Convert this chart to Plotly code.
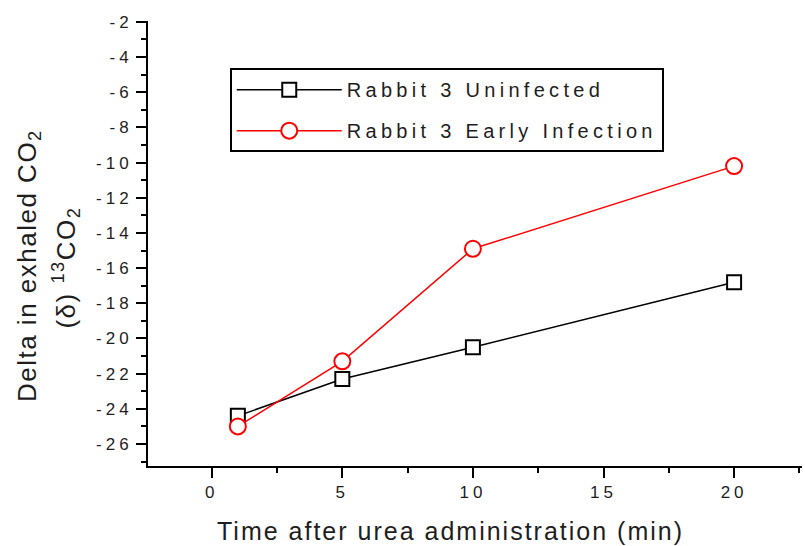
import plotly.graph_objects as go

# ---- data ----
time_min = [1, 5, 10, 20]
uninfected = [-24.4, -22.3, -20.5, -16.8]
early_infection = [-25.0, -21.3, -14.9, -10.2]
series_names = ["Rabbit 3 Uninfected", "Rabbit 3 Early Infection"]
x_tick_vals = [0, 5, 10, 15, 20]
y_tick_vals = [-26, -24, -22, -20, -18, -16, -14, -12, -10, -8, -6, -4, -2]

FONT = "Liberation Sans, Arial, sans-serif"
TXT = "#1e1e1e"


def spaced(s, px):
    return f'<span style="letter-spacing:{px}px">{s}</span>'


fig = go.Figure()
fig.add_trace(go.Scatter(
    x=time_min, y=uninfected, name=spaced(series_names[0], 4.3),
    mode="lines+markers", legendgroup="a",
    line=dict(color="black", width=1.5),
    marker=dict(symbol="square", size=14, color="white",
                line=dict(color="black", width=2)),
))
fig.add_trace(go.Scatter(
    x=time_min, y=early_infection, name=spaced(series_names[1], 4.3),
    mode="lines+markers", legendgroup="b",
    line=dict(color="red", width=1.5),
    marker=dict(symbol="circle", size=16, color="white",
                line=dict(color="red", width=2)),
))

axis_common = dict(
    showline=True, linecolor="black", linewidth=2,
    ticks="outside", ticklen=10, tickwidth=2, tickcolor="black",
    showgrid=False, zeroline=False, mirror=False, automargin=False,
    tickfont=dict(family=FONT, size=17, color=TXT),
)
fig.update_xaxes(
    range=[-2.44, 22.6], tickmode="array", tickvals=x_tick_vals,
    ticktext=[spaced(str(v), 4) for v in x_tick_vals],
    minor=dict(dtick=2.5, tick0=0, ticks="outside", ticklen=5,
               tickwidth=2, tickcolor="black"),
    **axis_common,
)
fig.update_yaxes(
    range=[-27.25, -1.95], tickmode="array", tickvals=y_tick_vals,
    ticktext=[spaced(str(v), 4) for v in y_tick_vals],
    minor=dict(dtick=1, tick0=0, ticks="outside", ticklen=5,
               tickwidth=2, tickcolor="black"),
    **axis_common,
)

fig.add_annotation(
    text=spaced("Delta in exhaled CO<sub>2</sub>", 1.5),
    xref="paper", yref="paper", x=-0.183, y=0.45,
    xanchor="center", yanchor="middle", textangle=-90, showarrow=False,
    font=dict(family=FONT, size=26, color=TXT),
)
fig.add_annotation(
    text=spaced("(δ) <sup>13</sup>CO<sub>2</sub>", 1.5),
    xref="paper", yref="paper", x=-0.126, y=0.445,
    xanchor="center", yanchor="middle", textangle=-90, showarrow=False,
    font=dict(family=FONT, size=26, color=TXT),
)
fig.add_annotation(
    text=spaced("Time after urea administration (min)", 2.0),
    xref="paper", yref="paper", x=0.463, y=-0.145,
    xanchor="center", yanchor="middle", showarrow=False,
    font=dict(family=FONT, size=25, color=TXT),
)

fig.update_layout(
    width=805, height=546, autosize=False,
    margin=dict(l=148, r=3, t=21, b=80),
    plot_bgcolor="white", paper_bgcolor="white",
    showlegend=True,
    legend=dict(
        x=0.125, y=0.894, xanchor="left", yanchor="top",
        bordercolor="black", borderwidth=2, bgcolor="white",
        font=dict(family=FONT, size=20, color=TXT),
        tracegroupgap=12, itemwidth=105,
    ),
)

fig.write_html("out.html", config={"displayModeBar": False},
               post_script="document.body.style.margin='0px';")
